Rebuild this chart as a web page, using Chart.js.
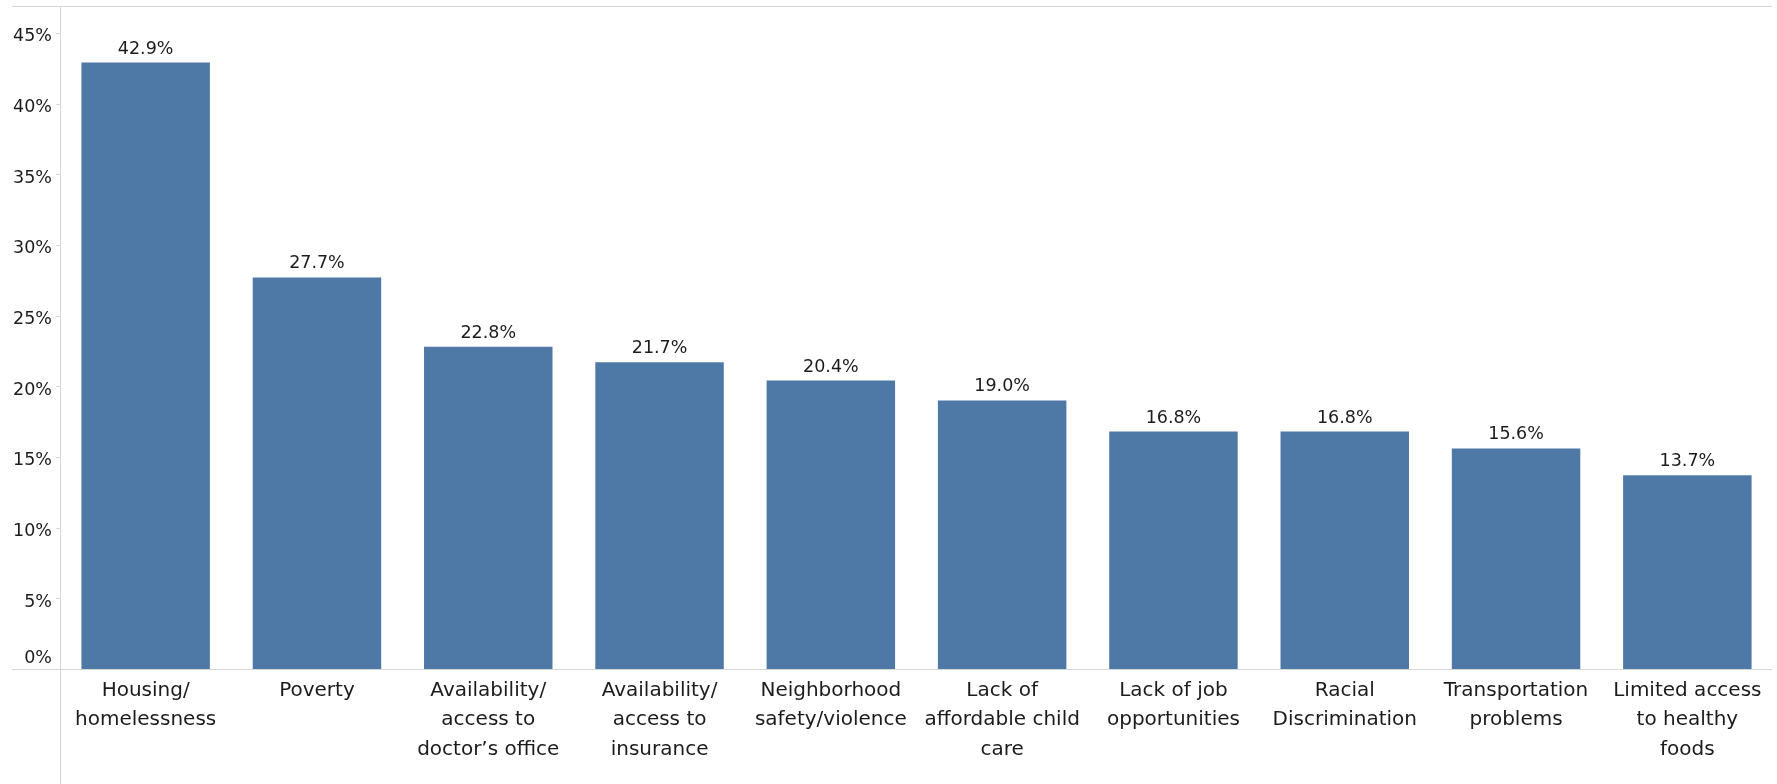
<!DOCTYPE html>
<html>
<head>
<meta charset="utf-8">
<script src="https://cdn.jsdelivr.net/npm/chart.js@4/dist/chart.umd.min.js"></script>
<style>
  html, body { margin: 0; padding: 0; background: #ffffff; }
  #wrap { width: 1777px; height: 784px; position: relative; }
</style>
</head>
<body>
<div id="wrap"><canvas id="chart" width="1777" height="784"></canvas></div>
<script>
// Share of respondents naming each issue (percent)
const categories = [
  ["Housing/", "homelessness"],
  ["Poverty"],
  ["Availability/", "access to", "doctor\u2019s office"],
  ["Availability/", "access to", "insurance"],
  ["Neighborhood", "safety/violence"],
  ["Lack of", "affordable child", "care"],
  ["Lack of job", "opportunities"],
  ["Racial", "Discrimination"],
  ["Transportation", "problems"],
  ["Limited access", "to healthy", "foods"]
];
const values = [42.9, 27.7, 22.8, 21.7, 20.4, 19.0, 16.8, 16.8, 15.6, 13.7];
const yTicks = [0, 5, 10, 15, 20, 25, 30, 35, 40, 45];

const FONT = "'DejaVu Sans', Verdana, sans-serif";
const TEXT = "#1c1c1c";
const RULE = "#d6d6d6";

// Frame lines, value axis labels and bar value labels
const decorations = {
  id: "decorations",
  beforeDatasetsDraw(chart) {
    const { ctx, chartArea, scales } = chart;
    const y = scales.y;
    ctx.save();
    ctx.strokeStyle = RULE;
    ctx.lineWidth = 1;
    ctx.beginPath();
    // top rule
    ctx.moveTo(12, chartArea.top + 0.5);
    ctx.lineTo(chartArea.right - 1, chartArea.top + 0.5);
    // left axis line running down through the label band
    ctx.moveTo(chartArea.left + 0.5, chartArea.top);
    ctx.lineTo(chartArea.left + 0.5, chart.height);
    // small tick marks
    yTicks.forEach(v => {
      const py = Math.round(y.getPixelForValue(v)) + 0.5;
      if (v > 0) {
        ctx.moveTo(chartArea.left - 4, py);
        ctx.lineTo(chartArea.left, py);
      }
    });
    ctx.stroke();

    // value axis labels
    ctx.fillStyle = TEXT;
    ctx.font = "17.5px " + FONT;
    ctx.textAlign = "right";
    ctx.textBaseline = "middle";
    yTicks.forEach(v => {
      let py = y.getPixelForValue(v) + 4;
      if (v === 0) py -= 15; // keep the zero label above the baseline
      ctx.fillText(v + "%", 52, py);
    });
    ctx.restore();
  },
  afterDatasetsDraw(chart) {
    const { ctx, chartArea } = chart;
    const meta = chart.getDatasetMeta(0);
    ctx.save();
    // baseline
    ctx.strokeStyle = RULE;
    ctx.lineWidth = 1;
    ctx.beginPath();
    ctx.moveTo(12, chartArea.bottom + 0.5);
    ctx.lineTo(chartArea.right - 1, chartArea.bottom + 0.5);
    ctx.stroke();
    // value labels above bars
    ctx.fillStyle = TEXT;
    ctx.font = "17.5px " + FONT;
    ctx.textAlign = "center";
    ctx.textBaseline = "alphabetic";
    meta.data.forEach((bar, i) => {
      ctx.fillText(values[i].toFixed(1) + "%", bar.x, bar.y - 9);
    });
    ctx.restore();
  }
};

new Chart(document.getElementById("chart"), {
  type: "bar",
  data: {
    labels: categories,
    datasets: [{
      data: values,
      backgroundColor: "#4e79a7",
      borderWidth: 0,
      barPercentage: 0.75,
      categoryPercentage: 1.0
    }]
  },
  options: {
    responsive: false,
    animation: false,
    layout: { padding: { top: 6, right: 4, left: 0, bottom: 0 } },
    plugins: { legend: { display: false }, tooltip: { enabled: false } },
    scales: {
      x: {
        grid: { display: false, drawTicks: false },
        border: { display: false },
        ticks: {
          color: TEXT,
          font: { family: FONT, size: 20, lineHeight: 1.475 },
          padding: 7,
          maxRotation: 0,
          autoSkip: false
        },
        afterFit(scale) { scale.height = 115; }
      },
      y: {
        min: 0,
        max: 46.9,
        grid: { display: false, drawTicks: false },
        border: { display: false },
        ticks: { display: false, stepSize: 5 },
        afterFit(scale) { scale.width = 60; }
      }
    }
  },
  plugins: [decorations]
});
</script>
</body>
</html>
